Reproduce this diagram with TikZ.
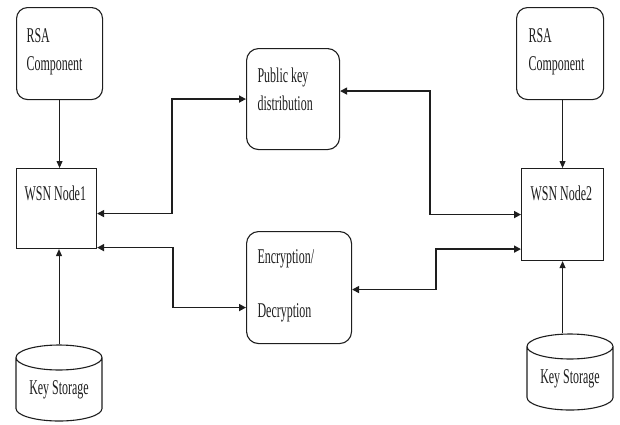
\documentclass[tikz,border=0pt]{standalone}
\usepackage{fontspec}
\setmainfont{Liberation Serif}[FakeStretch=0.57]
\usetikzlibrary{arrows.meta,positioning,shapes.geometric}
\definecolor{ink}{RGB}{30,30,30}
\tikzset{
  >={Triangle[length=7pt,width=7pt]},
  box/.style={draw=ink,line width=1.1pt,rounded corners=#1,anchor=north west,align=left,
    inner ysep=0pt,text=ink,font=\fontsize{21}{28}\selectfont,
    execute at begin node={\spaceskip=0pt\xspaceskip=0pt}},
  box/.default=11pt,
  sz/.style n args={3}{text width=#1,text height=#2,text depth=#3},
  store/.style={cylinder,shape border rotate=90,draw=ink,line width=1.1pt,aspect=0.42,
    anchor=shape center,minimum width=86pt,minimum height=76pt,inner sep=0pt,text=ink,
    font=\fontsize{21}{28}\selectfont},
  link/.style={<->,line width=1.6pt,draw=ink},
  feed/.style={-{Triangle[length=7pt,width=6pt]},line width=0.9pt,draw=ink},
}
\begin{document}
\begin{tikzpicture}[x=1pt,y=-1pt]
  \useasboundingbox (0,0) rectangle (620,424);
  % left side
  \node[box,inner xsep=10pt,sz={66pt}{35pt}{57pt}] (rsa1) at (16,7) {RSA\\Component};
  \node[box=0pt,inner xsep=8pt,sz={64pt}{32pt}{48pt}] (node1) at (16,168) {WSN Node1};
  \node[store] (keys1) at (59,383) {Key Storage};
  % middle
  \node[box=12pt,inner xsep=11pt,sz={71pt}{34pt}{67pt}] (pubkey) at (246,48) {Public key\\distribution};
  \node[box=12pt,inner xsep=11pt,sz={83pt}{32pt}{80pt}] (crypt) at (246,231) {Encryption/\\[26pt]Decryption};
  % right side
  \node[box,inner xsep=12pt,sz={63pt}{35pt}{57pt}] (rsa2) at (516,7) {RSA\\Component};
  \node[box=0pt,inner xsep=9pt,sz={64pt}{32pt}{60pt}] (node2) at (521,168) {WSN Node2};
  \node[store] (keys2) at (570,372) {Key Storage};
  % feeds
  \draw[feed] (rsa1.south) -- (rsa1.south |- node1.north);
  \draw[feed] (keys1.top) -- (keys1.top |- node1.south);
  \draw[feed] (node2.north |- rsa2.south) -- (node2.north);
  \draw[feed] (node2.south |- keys2.top) -- (node2.south);
  % links
  \draw[link] ([yshift=-5pt]node1.east) -- ++(75,0) |- (pubkey.west);
  \draw[link] ([yshift=8pt]pubkey.east) -- ++(90,0) |- (node2.west);
  \draw[link] ([yshift=1.5pt]node1.south east) -- ++(76,0) |- ([yshift=-20pt]crypt.west);
  \draw[link] ([yshift=12pt]node2.south west) -- ++(-85,0) |- ([yshift=-2pt]crypt.east);
\end{tikzpicture}
\end{document}
